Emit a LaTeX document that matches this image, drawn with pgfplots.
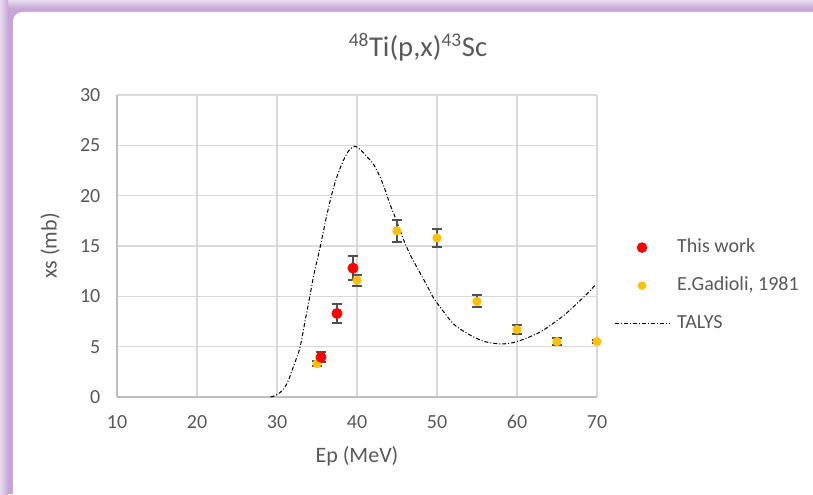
\documentclass[border=0pt]{standalone}
\usepackage{fontspec}
\setmainfont{Carlito}
\usepackage{pgfplots}
\usepackage{pgfplotstable}
\pgfplotsset{compat=1.18}

\definecolor{txtgray}{HTML}{595959}
\definecolor{gridgray}{HTML}{D9D9D9}
\definecolor{axgray}{HTML}{BFBFBF}
\definecolor{errgray}{HTML}{505050}
\definecolor{gold}{HTML}{FFC000}
\definecolor{framepurple}{HTML}{C6A6D6}
\definecolor{framelight}{HTML}{E8DCEF}

% measured cross sections: energy (MeV), xs (mb), uncertainty (mb)
\pgfplotstableread{
x     y     err
35.5  3.95  0.50
37.5  8.30  0.90
39.5  12.80 1.20
}\thiswork

\pgfplotstableread{
x   y     err
35  3.30  0.25
40  11.60 0.55
45  16.50 1.10
50  15.80 0.85
55  9.50  0.60
60  6.70  0.45
65  5.50  0.35
70  5.50  0.15
}\gadioli

% TALYS excitation function
\pgfplotstableread{
x      y
29.2   0.0
29.8   0.15
30.4   0.45
31.0   1.0
31.5   1.8
32.0   2.9
32.5   4.0
32.9   5.0
33.5   7.5
34.1   10.0
34.7   12.5
35.4   14.9
36.1   17.6
36.8   20.0
37.5   21.9
38.3   23.5
39.0   24.5
39.75  24.9
40.5   24.5
41.2   23.9
42.0   23.2
42.8   22.0
43.5   20.6
44.1   19.2
44.75  17.9
45.5   16.3
46.2   14.9
47.0   13.6
47.9   12.3
48.8   11.0
49.6   9.8
50.8   8.5
52.0   7.3
53.2   6.6
54.5   6.0
56.0   5.5
57.9   5.27
59.5   5.4
61.2   5.85
63.0   6.5
64.5   7.3
66.0   8.2
67.5   9.3
68.7   10.2
69.75  11.1
}\talys

\begin{document}
\begin{tikzpicture}
\useasboundingbox (0,0) rectangle (609.75pt,370.5pt);
% chart frame
\fill[framepurple] (0,0) rectangle (609.75pt,370.5pt);
\shade[top color=framelight, bottom color=framepurple] (0,364pt) rectangle (609.75pt,370.5pt);
\shade[left color=framelight, right color=framepurple] (0,0) rectangle (6pt,370.5pt);
\fill[white, rounded corners=7pt] (9.75pt,-20pt) rectangle (630pt,361.5pt);

\begin{axis}[
  at={(87.75pt,72.75pt)}, anchor=south west,
  scale only axis, width=360pt, height=226.5pt,
  xmin=10, xmax=70, ymin=0, ymax=30,
  xtick={10,20,...,70}, ytick={0,5,...,30},
  grid=major,
  major grid style={gridgray, line width=1.1pt},
  axis lines*=left,
  axis line style={axgray, line width=1.1pt},
  major tick length=0pt,
  /pgf/number format/assume math mode=true,
  tick label style={font=\fontsize{15}{18}\selectfont, text=txtgray},
  xticklabel style={yshift=-10pt},
  yticklabel style={xshift=-9pt},
  xlabel={Ep (MeV)},
  ylabel={xs (mb)},
  label style={font=\fontsize{16.5}{20}\selectfont, text=txtgray},
  xlabel style={at={(axis description cs:0.5,-0.195)}, anchor=center},
  ylabel style={at={(axis description cs:-0.1396,0.5)}, anchor=center},
  title={\textsuperscript{\fontsize{14.5}{15}\selectfont 48}Ti(p,x)\textsuperscript{\fontsize{14.5}{15}\selectfont 43}Sc},
  title style={at={(axis description cs:0.627,1.133)}, anchor=center,
    font=\fontsize{21.5}{26}\selectfont, text=txtgray},
  legend image code/.code={\draw[mark repeat=2,mark phase=2,#1] plot coordinates {(0pt,0pt)(20.5pt,0pt)(41pt,0pt)};},
  legend style={at={(axis description cs:1.027,0.369)}, anchor=west,
    draw=none, fill=none, font=\fontsize{15}{18}\selectfont, text=txtgray,
    row sep=10.5pt,
    nodes={text height=11pt, text depth=3pt},
    /tikz/every odd column/.append style={column sep=3.5pt}},
  legend cell align=left,
]
% theory curve
\addplot[black, line width=0.75pt, smooth, tension=0.5,
  dash pattern=on 3pt off 1.5pt on 0.75pt off 1.5pt, forget plot]
  table[x=x, y=y] {\talys};

% uncertainty bars
\addplot[forget plot, draw=none, mark=none,
  error bars/.cd, y dir=both, y explicit, error mark=|,
  error bar style={errgray, line width=1.5pt},
  error mark options={errgray, line width=1.5pt, mark size=4.1pt}]
  table[x=x, y=y, y error=err] {\gadioli};
\addplot[forget plot, draw=none, mark=none,
  error bars/.cd, y dir=both, y explicit, error mark=|,
  error bar style={errgray, line width=1.5pt},
  error mark options={errgray, line width=1.5pt, mark size=4.1pt}]
  table[x=x, y=y, y error=err] {\thiswork};

% data points
\addplot[forget plot, only marks, mark=*, mark size=3.2pt, gold, mark options={draw=gold, fill=gold}]
  table[x=x, y=y] {\gadioli};
\addplot[forget plot, only marks, mark=*, mark size=3.9pt, red, mark options={draw=red, fill=red}]
  table[x=x, y=y] {\thiswork};

\addlegendimage{only marks, mark=*, mark size=3.75pt, red, mark options={draw=red, fill=red}}
\addlegendentry{This work}
\addlegendimage{only marks, mark=*, mark size=3pt, gold, mark options={draw=gold, fill=gold}}
\addlegendentry{E.Gadioli, 1981}
\addlegendimage{black, line width=0.75pt, dash pattern=on 3pt off 1.5pt on 0.75pt off 1.5pt}
\addlegendentry{TALYS}
\end{axis}
\end{tikzpicture}
\end{document}
